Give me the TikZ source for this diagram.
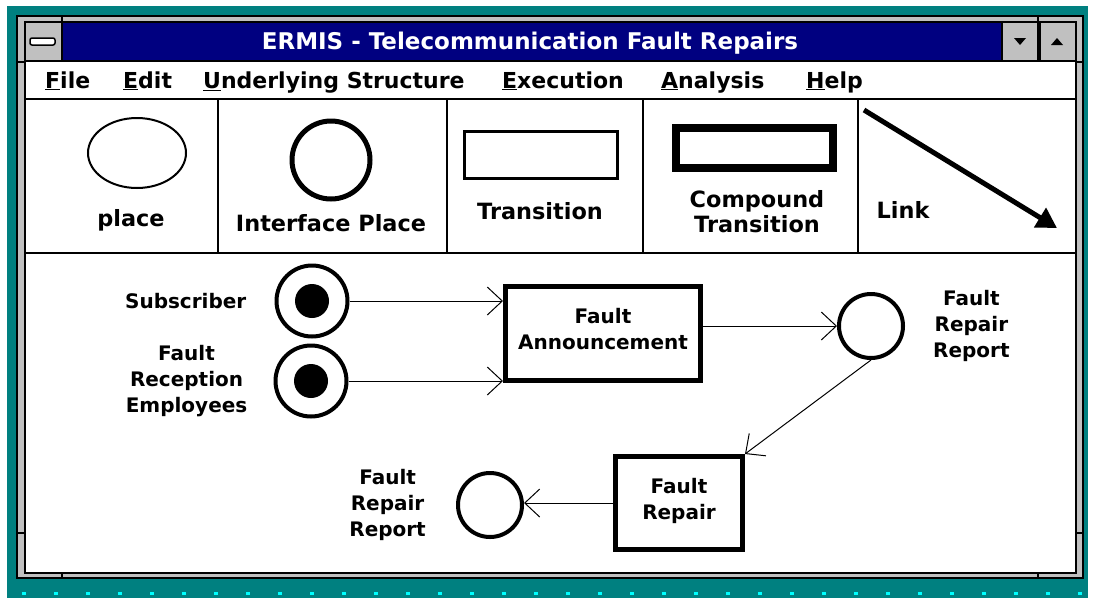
\documentclass[tikz,border=0pt]{standalone}
\usepackage{fontspec}
\setmainfont{DejaVu Sans}
\usetikzlibrary{arrows.meta,positioning,shapes.geometric}
\definecolor{desktop}{HTML}{008080}
\definecolor{titleblue}{HTML}{000080}
\definecolor{framegray}{HTML}{C0C0C0}
\definecolor{dotcyan}{HTML}{00FFFF}
\begin{document}
\begin{tikzpicture}[x=1pt,y=-1pt,
  place/.style={circle,draw,line width=4pt,minimum size=64pt,inner sep=0pt},
  token/.style={circle,fill,minimum size=34pt,inner sep=0pt},
  trans/.style={rectangle,draw,line width=5pt,align=center,inner sep=0pt,font=\bfseries\fontsize{20}{26}\selectfont},
  lbl/.style={align=center,inner sep=0pt,font=\bfseries\fontsize{20}{26}\selectfont},
  tool/.style={align=center,inner sep=0pt,font=\bfseries\fontsize{22.4}{25}\selectfont},
  menu/.style={anchor=base west,inner sep=0pt,font=\bfseries\fontsize{22}{26}\selectfont},
  btn/.style={fill=framegray,draw=black,line width=1.5pt},
  arc/.style={line width=1pt,-{Straight Barb[length=15pt,width=28pt]}}]
  \useasboundingbox[fill=white] (0,0) rectangle (1100,598);
  \fill[desktop] (7,6) rectangle (1088,598);
  \foreach \x in {22,54,...,1080}
    \fill[dotcyan] (\x,592) rectangle ++(4,3);
  % window frame
  \draw[btn] (17,16) rectangle (1083,578);
  \draw[black,line width=1.5pt] (62,16) -- (62,22) (1038,16) -- (1038,22)
    (62,573) -- (62,578) (1038,573) -- (1038,578)
    (17,62) -- (25,62) (1076,62) -- (1083,62)
    (17,533) -- (25,533) (1076,533) -- (1083,533);
  \draw[fill=white,line width=1.5pt] (25,22) rectangle (1076,573);
  \draw[btn] (25,22) rectangle (62,61);
  \draw[fill=white,rounded corners=2pt,line width=1.5pt] (30,38) rectangle (55,45);
  \draw[fill=titleblue,line width=1.5pt] (62,22) rectangle (1002,61);
  \node[text=white,inner sep=0pt,font=\bfseries\fontsize{23}{26}\selectfont] (title) at (530,43) {ERMIS - Telecommunication Fault Repairs};
  \draw[btn] (1002,22) rectangle (1038,61);
  \draw[btn] (1040,22) rectangle (1076,61);
  \fill (1014,38) -- (1026,38) -- (1020,45) -- cycle;
  \fill (1051,45) -- (1063,45) -- (1057,38) -- cycle;
  % menu bar
  \node[menu] (mfile) at (45,88) {\underline{F}ile};
  \node[menu] (medit) at (123,88) {\underline{E}dit};
  \node[menu] (mstruct) at (203,88) {\underline{U}nderlying Structure};
  \node[menu] (mexec) at (502,88) {\underline{E}xecution};
  \node[menu] (manal) at (661,88) {\underline{A}nalysis};
  \node[menu] (mhelp) at (806,88) {\underline{H}elp};
  \draw[line width=2pt] (25,98.5) -- (1076,98.5);
  % toolbar
  \draw[line width=1.5pt] (25,253) -- (1076,253);
  \foreach \x in {218,447,643,858}
    \draw[line width=1.5pt] (\x,99) -- (\x,253);
  \node[ellipse,draw,line width=2pt,minimum width=98pt,minimum height=70pt] (iplace) at (137,153) {};
  \node[tool] (tplace) at (131,220) {place};
  \node[circle,draw,line width=5pt,minimum size=78pt] (iiface) at (331,160) {};
  \node[tool] (tiface) at (331,223) {Interface Place};
  \node[rectangle,draw,line width=3pt,minimum width=153pt,minimum height=47pt] (itrans) at (541,155) {};
  \node[tool] (ttrans) at (540,211) {Transition};
  \node[rectangle,draw,line width=8pt,minimum width=157pt,minimum height=40pt] (icomp) at (754.5,148) {};
  \node[tool] (tcomp) at (757,212) {Compound\\Transition};
  \coordinate (lstart) at (864,110);
  \coordinate (lend) at (1057,228);
  \draw[line width=5pt,-{Triangle[length=20pt,width=22pt]}] (lstart) -- (lend);
  \node[tool] (tlink) at (903,210) {Link};
  % net
  \node[place,minimum size=71pt] (sub) at (312,301) {};
  \node[token] (subtok) at (sub) {};
  \node[lbl,left=28pt of sub] (lsub) {Subscriber};
  \node[place,minimum size=71pt] (fre) at (311,381) {};
  \node[token] (fretok) at (fre) {};
  \node[lbl,left=26pt of fre] (lfre) {Fault\\Reception\\Employees};
  \node[trans,minimum width=195pt,minimum height=94pt] (fa) at (603,333.5) {Fault\\Announcement\\[-16pt]};
  \node[place] (frr) at (871,326) {};
  \node[lbl,right=28pt of frr] (lfrr) {Fault\\Repair\\Report};
  \node[trans,minimum width=127pt,minimum height=93pt] (fr) at (679,503) {Fault\\Repair\\[-18pt]};
  \node[place] (frr2) at (490,505) {};
  \node[lbl,left=30pt of frr2] (lfrr2) {Fault\\Repair\\Report};
  \draw[arc] (sub.east) -- (sub.east -| fa.west);
  \draw[arc] (fre.east) -- (fre.east -| fa.west);
  \draw[arc] (fa.east |- frr.west) -- (frr.west);
  \draw[arc] (frr.south) -- (fr.north east);
  \draw[arc] (fr.west) -- (fr.west -| frr2.east);
\end{tikzpicture}
\end{document}
